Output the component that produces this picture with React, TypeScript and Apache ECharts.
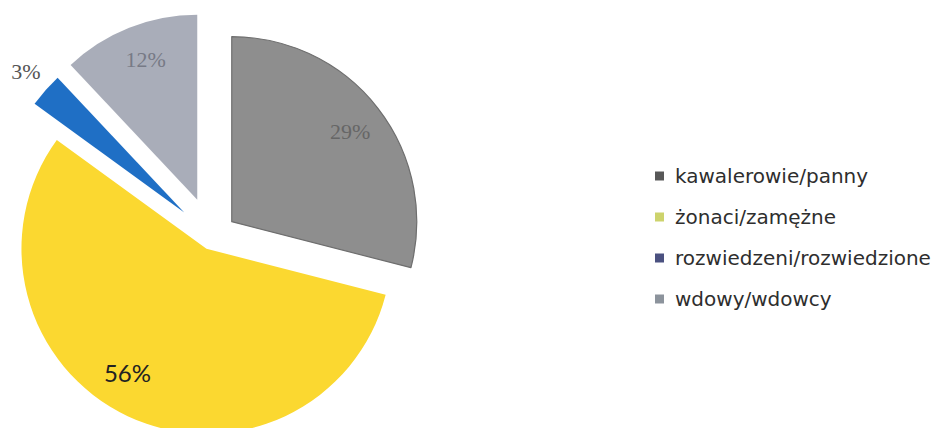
import React, { useEffect, useRef } from 'react';
import * as echarts from 'echarts';

const categories = ['kawalerowie/panny', 'żonaci/zamężne', 'rozwiedzeni/rozwiedzione', 'wdowy/wdowcy'];
const shares = [29, 56, 3, 12];

const sliceColors = ['#8e8e8e', '#fbd830', '#1f6fc5', '#a9adb9'];
const sliceBorders = ['#6e6e6e', '#fbd830', '#1f6fc5', '#a9adb9'];
const legendColors = ['#585858', '#cdd36c', '#4b5180', '#8c939c'];
const explodeOffsets = [25, 13, 37, 40];
const labelRadiusFactor = [0.78, 0.72, 1.14, 0.8];
const labelShift = [[2, 3], [-21, 0], [2, 0], [4, 0]];
const labelColors = ['#666666', '#222222', '#555555', '#777a86'];
const labelFonts = ['Liberation Serif', 'Lato', 'Liberation Serif', 'Liberation Serif'];
const labelSizes = [22, 24, 22, 22];

const CENTER = [212, 237];
const R = 185;
const CLEAR = 'rgba(0,0,0,0)';

function shiftPadding([dx, dy]: number[]) {
  return [dy > 0 ? 2 * dy : 0, dx < 0 ? -2 * dx : 0, dy < 0 ? -2 * dy : 0, dx > 0 ? 2 * dx : 0];
}

function buildOption() {
  const fillSeries = categories.map((_, i) => ({
    type: 'pie',
    center: CENTER,
    radius: [0, R],
    startAngle: 90,
    clockwise: true,
    selectedMode: 'multiple',
    selectedOffset: explodeOffsets[i],
    silent: true,
    avoidLabelOverlap: false,
    emphasis: { disabled: true },
    label: { show: false },
    labelLine: { show: false },
    data: categories.map((name, j) => {
      const style = {
        color: j === i ? sliceColors[j] : CLEAR,
        borderColor: j === i ? sliceBorders[j] : CLEAR,
        borderWidth: j === i && j === 0 ? 1.2 : 0,
      };
      return {
        name,
        value: shares[j],
        selected: j === i,
        itemStyle: style,
        select: { itemStyle: style },
      };
    }),
  }));

  const labelSeries = categories.map((_, i) => {
    const dist = explodeOffsets[i] + labelRadiusFactor[i] * R;
    return {
      type: 'pie',
      center: CENTER,
      radius: [dist - 2, dist + 2],
      startAngle: 90,
      clockwise: true,
      silent: true,
      avoidLabelOverlap: false,
      emphasis: { disabled: true },
      labelLine: { show: false },
      data: categories.map((name, j) => ({
        name,
        value: shares[j],
        itemStyle: { color: CLEAR, borderWidth: 0 },
        label: {
          show: j === i,
          position: 'inside',
          rotate: 0,
          formatter: (p: any) => `${p.value}%`,
          color: labelColors[j],
          fontFamily: labelFonts[j],
          fontSize: labelSizes[j],
          padding: shiftPadding(labelShift[j]),
        },
      })),
    };
  });

  return {
    animation: false,
    backgroundColor: '#ffffff',
    legend: {
      orient: 'vertical',
      left: 650,
      top: 161,
      itemWidth: 9,
      itemHeight: 9,
      itemGap: 21,
      selectedMode: false,
      textStyle: {
        fontFamily: 'DejaVu Sans',
        fontSize: 20,
        color: '#2e2e2e',
        lineHeight: 20,
        padding: [0, 0, 0, 6],
      },
      data: categories.map((name, i) => ({
        name,
        icon: 'rect',
        itemStyle: { color: legendColors[i], borderWidth: 0 },
      })),
    },
    series: [...fillSeries, ...labelSeries],
  };
}

export default function App() {
  const ref = useRef<HTMLDivElement>(null);
  useEffect(() => {
    if (!ref.current) return;
    const chart = echarts.init(ref.current, null, { renderer: 'svg' });
    chart.setOption(buildOption() as any);
    return () => chart.dispose();
  }, []);
  return (
    <div
      ref={ref}
      style={{ position: 'absolute', left: 0, top: 0, width: 947, height: 428, background: '#fff' }}
    />
  );
}
